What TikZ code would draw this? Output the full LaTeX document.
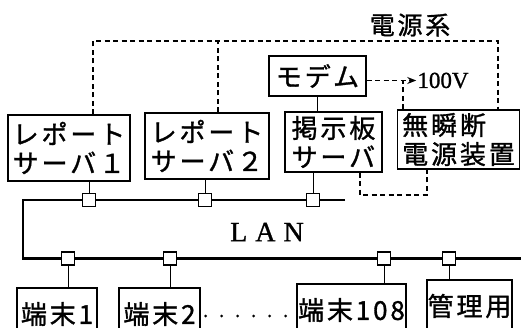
\documentclass[tikz,border=0pt]{standalone}
\usepackage{fontspec}
\newfontfamily\jp[LetterSpace=11,FakeBold=1.2]{Noto Sans CJK JP}
\newfontfamily\lat[FakeBold=1]{Liberation Serif}
\usetikzlibrary{arrows.meta}
\begin{document}
\begin{tikzpicture}[x=1pt,y=-1pt,
  box/.style={draw,line width=1.2pt,inner sep=0pt,font=\jp\fontsize{26}{29}\selectfont,align=left},
  conn/.style={draw,line width=1.2pt,fill=white,minimum size=13pt,inner sep=0pt},
  lan/.style={line width=2.6pt,line join=miter},
  pwr/.style={dash pattern=on 5pt off 3.5pt,line width=1.2pt},
  tap/.style={line width=1pt},
  dotrow/.style={line width=3pt,dash pattern=on 0pt off 16pt,line cap=round}]
\useasboundingbox (0,0) rectangle (521,327);
\clip (0,0) rectangle (521,327);
% title
\node[font=\jp\fontsize{25}{27}\selectfont] (title) at (410,25) {電源系};
% boxes
\node[box,minimum width=122pt,minimum height=66pt] (s1) at (69,148) {レポート\\サーバ１};
\node[box,minimum width=124pt,minimum height=66pt] (s2) at (207,146) {レポート\\サーバ２};
\node[box,minimum width=97pt,minimum height=60pt] (bbs) at (333.5,142) {掲示板\\サーバ};
\node[box,minimum width=122pt,minimum height=59pt] (ups) at (458.5,139.5) {無瞬断\\電源装置};
\node[box,minimum width=97pt,minimum height=40pt] (modem) at (317.5,76) {モデム};
\node[font=\lat\fontsize{23}{26}\selectfont,inner sep=0pt] (v100) at (443,80.5) {100V};
% power lines
\coordinate (tl) at (93,41);
\coordinate (tm) at (218,41);
\coordinate (tr) at (498,41);
\coordinate (j) at (403,80.5);
\coordinate (b1) at (360,195);
\coordinate (b2) at (427,195);
\draw[pwr] (tl |- s1.north) -- (tl) -- (tr) -- (tr |- ups.north);
\draw[pwr] (tm |- s2.north) -- (tm);
\draw[pwr,-{Stealth[length=9pt,width=7pt]}] ([yshift=-4.5pt]modem.east) -- ([xshift=-1pt]v100.west);
\draw[pwr] (j |- ups.north) -- (j);
\draw[pwr] (b1 |- bbs.south) -- (b1) -- (b2) -- (b2 |- ups.south);
\draw[tap] (modem.south) -- (modem.south |- bbs.north);
% LAN
\coordinate (lu) at (345,200);
\coordinate (lc) at (23,200);
\coordinate (ld) at (23,258.5);
\coordinate (lr) at (525,258.5);
\draw[lan] (lu) -- (lc) -- (ld) -- (lr);
\node[font=\lat\fontsize{28}{30}\selectfont] (lan) at (267,232) {L\hspace{8pt}A\hspace{8pt}N};
% upper connectors
\node[conn] (c1) at (89,200) {};
\node[conn] (c2) at (205,200) {};
\node[conn] (c3) at (313,200) {};
\draw[tap] (c1.north) -- (c1.north |- s1.south);
\draw[tap] (c2.north) -- (c2.north |- s2.south);
\draw[tap] (c3.north) -- (c3.north |- bbs.south);
% terminals
\node[box,minimum width=80pt,minimum height=52pt] (t1) at (57,314) {端末1};
\node[box,minimum width=81pt,minimum height=52pt] (t2) at (159.5,314) {端末2};
\node[box,minimum width=109pt,minimum height=52pt] (t108) at (351.5,310) {端末108};
\node[box,minimum width=85pt,minimum height=52pt] (mg) at (469.5,306) {管理用};
% lower connectors
\node[conn] (d1) at (68,258.5) {};
\node[conn] (d2) at (170,258.5) {};
\node[conn] (d3) at (384,258.5) {};
\node[conn] (d4) at (449,258.5) {};
\draw[tap] (d1.south) -- (d1.south |- t1.north);
\draw[tap] (d2.south) -- (d2.south |- t2.north);
\draw[tap] (d3.south) -- (d3.south |- t108.north);
\draw[tap] (d4.south) -- (d4.south |- mg.north);
\draw[dotrow] ([xshift=5pt,yshift=-2pt]t2.east) -- ([xshift=-8pt,yshift=-2pt]t2.east -| t108.west);
\end{tikzpicture}
\end{document}
